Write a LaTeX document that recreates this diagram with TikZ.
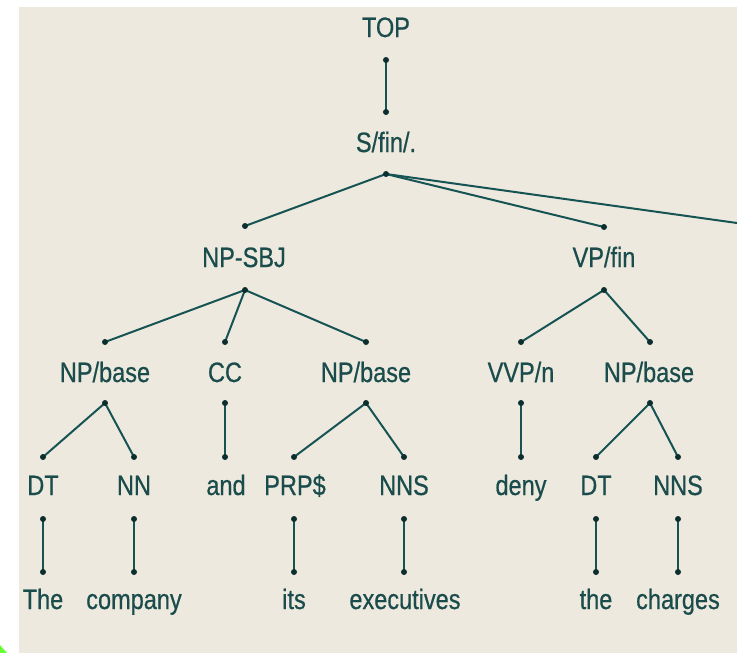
\documentclass[tikz,border=0pt]{standalone}
\usepackage{fontspec}
\setmainfont[FakeStretch=0.84,FakeBold=0.6]{Liberation Sans}
\definecolor{bgc}{RGB}{238,233,223}
\definecolor{txtc}{RGB}{26,76,76}
\definecolor{linec}{RGB}{22,84,84}
\definecolor{dotc}{RGB}{12,46,46}
\definecolor{grc}{RGB}{102,255,51}
\begin{document}
\begin{tikzpicture}[x=1pt,y=-1pt,
  lbl/.style={anchor=base, inner sep=0pt, text=txtc, font=\fontsize{28}{28}\selectfont},
  edge/.style={draw=linec, line width=2pt},
  dotmark/.style={fill=dotc}]
\useasboundingbox (0,0) rectangle (737,653);
\fill[white] (0,0) rectangle (737,653);
\fill[bgc] (19,7) rectangle (737,653);
\fill[grc] (0,645) -- (0,653) -- (7,653) -- cycle;

% labels
\node[lbl] (top) at (386,37) {TOP};
\node[lbl] (s) at (386,152) {S/fin/.};
\node[lbl] (npsbj) at (244,267) {NP-SBJ};
\node[lbl] (vpfin) at (604,267) {VP/fin};
\node[lbl] (np1) at (105,382) {NP/base};
\node[lbl] (cc) at (225,382) {CC};
\node[lbl] (np2) at (366,382) {NP/base};
\node[lbl] (vvp) at (521,382) {VVP/n};
\node[lbl] (np3) at (649,382) {NP/base};
\node[lbl] (dt1) at (43,495) {DT};
\node[lbl] (nn) at (134,495) {NN};
\node[lbl] (and) at (226,495) {and};
\node[lbl] (prp) at (295,495) {PRP\$};
\node[lbl] (nns1) at (404,495) {NNS};
\node[lbl] (deny) at (521,495) {deny};
\node[lbl] (dt2) at (596,495) {DT};
\node[lbl] (nns2) at (678,495) {NNS};
\node[lbl] (the1) at (43,609) {The};
\node[lbl] (company) at (134,609) {company};
\node[lbl] (its) at (294,609) {its};
\node[lbl] (execs) at (405,609) {executives};
\node[lbl] (the2) at (596,609) {the};
\node[lbl] (charges) at (678,609) {charges};

% attachment points
\coordinate (topb) at (386,60);
\coordinate (sa) at (386,112);
\coordinate (sb) at (386,174);
\coordinate (npa) at (245,226);
\coordinate (npb) at (245,290);
\coordinate (vpa) at (604,227);
\coordinate (vpb) at (604,290);
\coordinate (off) at (737,223);
\coordinate (np1a) at (105,342); \coordinate (np1b) at (105,403);
\coordinate (cca) at (225,342);  \coordinate (ccb) at (225,403);
\coordinate (np2a) at (366,342); \coordinate (np2b) at (366,403);
\coordinate (vvpa) at (521,342); \coordinate (vvpb) at (521,403);
\coordinate (np3a) at (650,342); \coordinate (np3b) at (650,403);
\coordinate (dt1a) at (43,457);  \coordinate (dt1b) at (43,519);
\coordinate (nna) at (134,457);  \coordinate (nnb) at (134,519);
\coordinate (anda) at (225,457);
\coordinate (prpa) at (294,457); \coordinate (prpb) at (294,519);
\coordinate (nns1a) at (404,457); \coordinate (nns1b) at (404,519);
\coordinate (denya) at (521,457);
\coordinate (dt2a) at (596,457); \coordinate (dt2b) at (596,519);
\coordinate (nns2a) at (678,457); \coordinate (nns2b) at (678,519);
\coordinate (the1a) at (43,572);
\coordinate (companya) at (134,572);
\coordinate (itsa) at (294,572);
\coordinate (execsa) at (404,572);
\coordinate (the2a) at (596,572);
\coordinate (chargesa) at (678,572);

% connectors
\foreach \a/\b in {topb/sa, sb/npa, sb/vpa, sb/off,
  npb/np1a, npb/cca, npb/np2a, vpb/vvpa, vpb/np3a,
  np1b/dt1a, np1b/nna, ccb/anda, np2b/prpa, np2b/nns1a,
  vvpb/denya, np3b/dt2a, np3b/nns2a,
  dt1b/the1a, nnb/companya, prpb/itsa, nns1b/execsa,
  dt2b/the2a, nns2b/chargesa}
  \draw[edge] (\a) -- (\b);

% dots
\foreach \p in {topb, sa, sb, npa, npb, vpa, vpb,
  np1a, np1b, cca, ccb, np2a, np2b, vvpa, vvpb, np3a, np3b,
  dt1a, dt1b, nna, nnb, anda, prpa, prpb, nns1a, nns1b, denya,
  dt2a, dt2b, nns2a, nns2b,
  the1a, companya, itsa, execsa, the2a, chargesa}
  \fill[dotmark] (\p) circle (3);
\end{tikzpicture}
\end{document}
